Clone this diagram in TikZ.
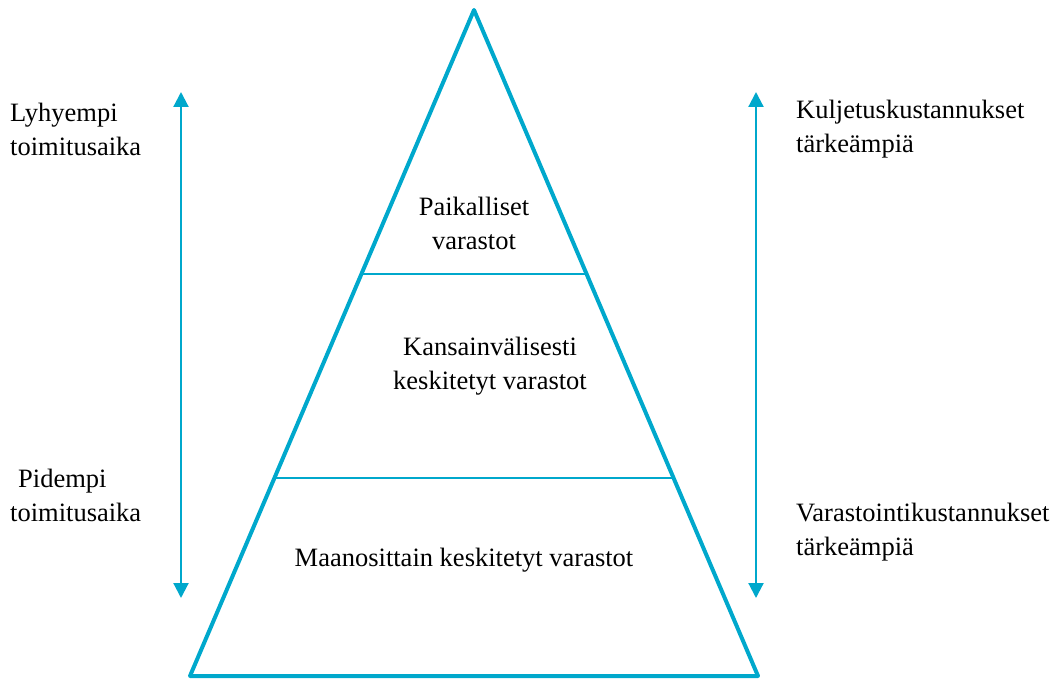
\documentclass[tikz,border=0pt]{standalone}
\usepackage{fontspec}
\setmainfont{Liberation Serif}
\usetikzlibrary{arrows.meta}
\definecolor{pyr}{RGB}{0,168,204}
\begin{document}
\begin{tikzpicture}[x=1pt,y=-1pt,
  edge/.style={draw=pyr,line width=4pt,line join=round},
  divider/.style={draw=pyr,line width=2.2pt},
  arr/.style={draw=pyr,line width=2.2pt,{Triangle[length=15pt,width=15pt]}-{Triangle[length=15pt,width=15pt]}},
  lbl/.style={font=\fontsize{26.5}{34}\selectfont,inner sep=0pt},
]
\useasboundingbox (0,0) rectangle (1060,679);
\coordinate (apex) at (474,10);
\coordinate (bl) at (190,676);
\coordinate (br) at (758,676);
\draw[edge] (apex) -- (bl) -- (br) -- cycle;
\coordinate (d1l) at (362,274);
\coordinate (d1r) at (586,274);
\coordinate (d2l) at (275,478);
\coordinate (d2r) at (673,478);
\draw[divider] (d1l) -- (d1r);
\draw[divider] (d2l) -- (d2r);
\coordinate (la1) at (181,92);
\coordinate (la2) at (181,598);
\coordinate (ra1) at (756,92);
\coordinate (ra2) at (756,598);
\draw[arr] (la1) -- (la2);
\draw[arr] (ra1) -- (ra2);
\node[lbl,align=center] (t1) at (474,223) {Paikalliset\\varastot};
\node[lbl,align=center] (t2) at (490,366) {Kansainvälisesti\\keskitetyt varastot};
\node[lbl,align=center] (t3) at (464,560) {Maanosittain keskitetyt varastot};
\node[lbl,align=left,anchor=west] (l1) at (10,129) {Lyhyempi\\toimitusaika};
\node[lbl,align=left,anchor=west] (l2) at (10,495) {\hspace*{8pt}Pidempi\\toimitusaika};
\node[lbl,align=left,anchor=west] (r1) at (796,129) {Kuljetuskustannukset\\tärkeämpiä};
\node[lbl,align=left,anchor=west] (r2) at (796,532) {Varastointikustannukset\\tärkeämpiä};
\end{tikzpicture}
\end{document}
